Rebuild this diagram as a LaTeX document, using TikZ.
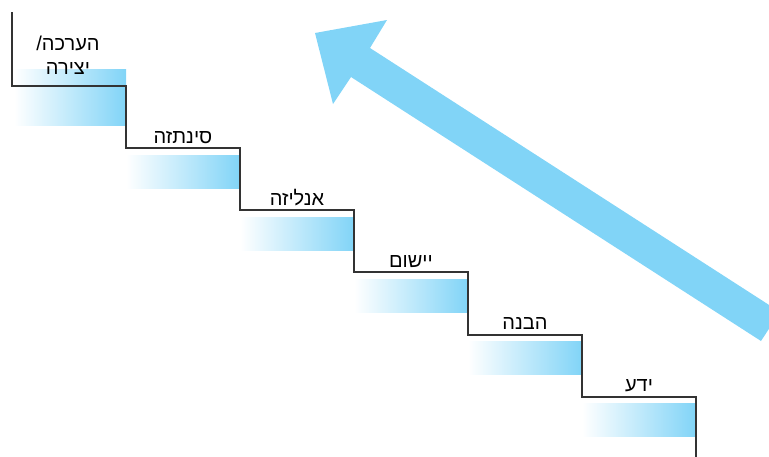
\documentclass[tikz,border=0pt]{standalone}
\usepackage{fontspec}
\newfontfamily\hebfont[Script=Hebrew]{Liberation Sans}
\TeXXeTstate=1
\usetikzlibrary{positioning}
\definecolor{stepblue}{RGB}{129,212,247}
\definecolor{stairline}{RGB}{51,51,51}
\newcommand{\heb}[1]{\beginR #1\endR}

\begin{document}
\begin{tikzpicture}[x=0.75pt,y=-0.75pt,
    stepbar/.style={left color=white,right color=stepblue,draw=none},
    steplabel/.style={font=\hebfont\fontsize{15}{18}\selectfont,inner sep=0pt,anchor=base}]
        \useasboundingbox (0,0) rectangle (769,457);
        \clip (0,0) rectangle (769,457);
        \fill[stepblue] (387,20) -- (315,33) -- (333,104) -- (351,77) --
        (761,341) -- (780,312) -- (370,48) -- cycle; % big arrow
        \shade[stepbar] (14,69) rectangle (126,125); % top bar
        \foreach \i in {1,...,5}
          \shade[stepbar] ({12+114*\i},{93+62*\i}) rectangle ({126+114*\i},{126+62*\i}); % bars
        \draw[stairline,line width=0.9pt] (12,12) -- (12,86) -| (126,148) -| (240,210) -| (354,272)
        -| (468,335) -| (582,397) -| (696,457); % stairs
        \node[steplabel] (lbl0a) at (68,50) {\heb{הערכה/}};
        \node[steplabel] (lbl0b) at (68,74) {\heb{יצירה}};
        \foreach \i/\txt in {1/סינתזה,2/אנליזה,3/יישום,4/הבנה,5/ידע}
          \node[steplabel] (lbl\i) at ({69+114*\i},{81+62*\i}) {\heb{\txt}};
      \end{tikzpicture}
\end{document}
